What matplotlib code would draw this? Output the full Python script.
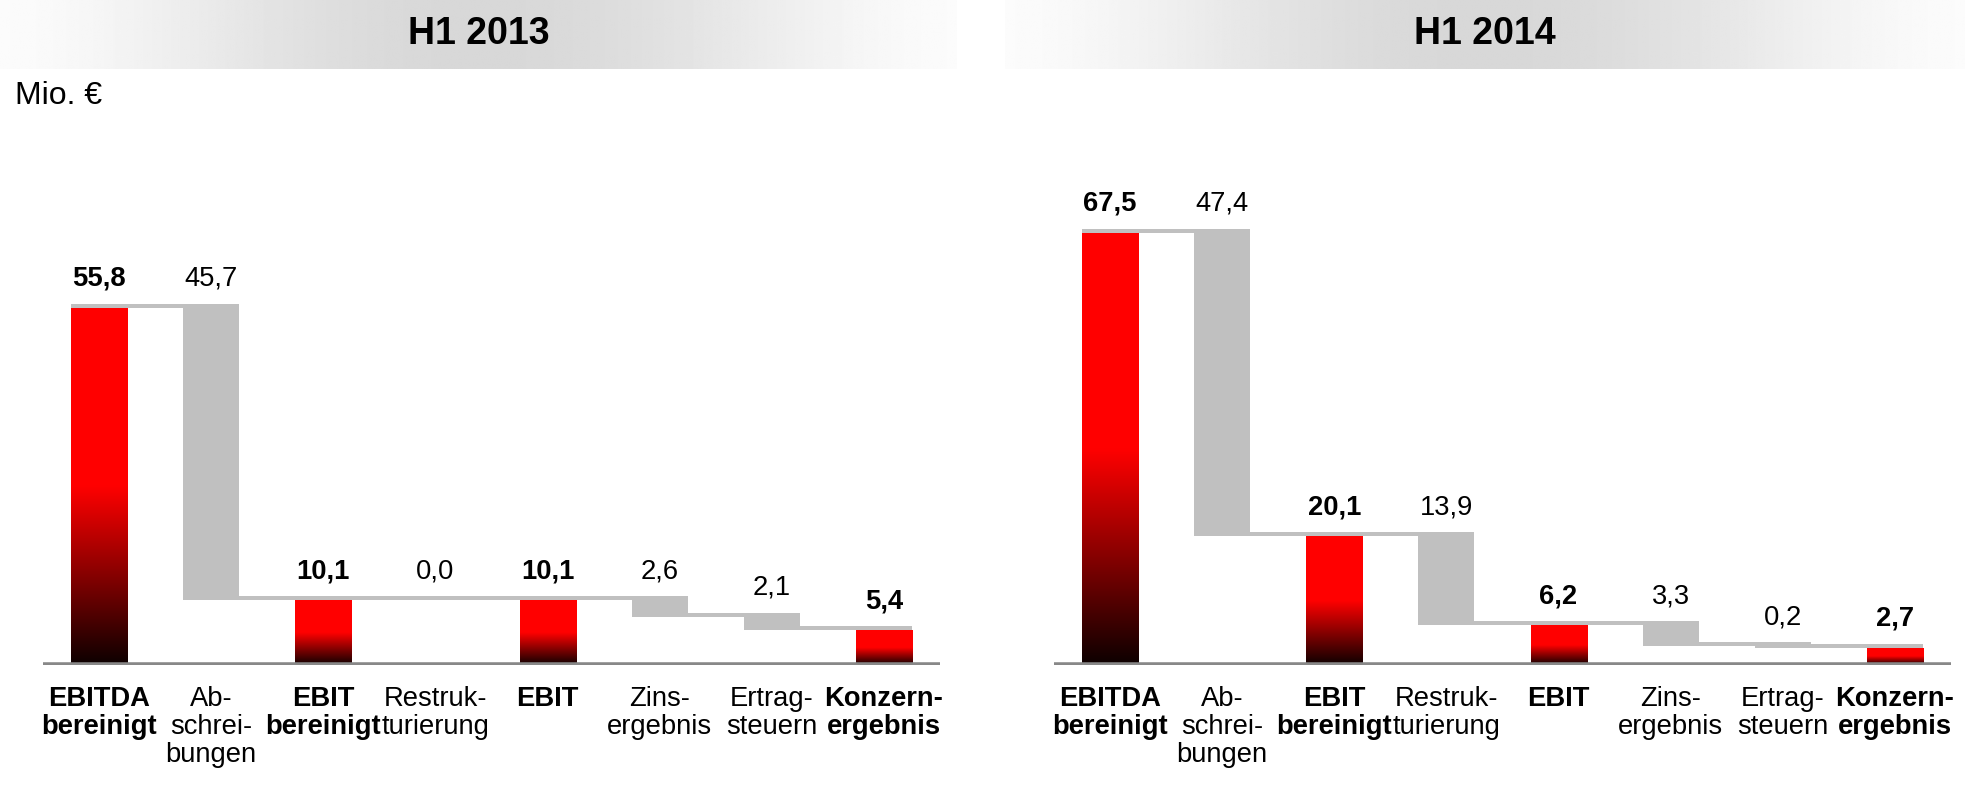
import numpy as np
import matplotlib
matplotlib.use("Agg")
import matplotlib.pyplot as plt
from matplotlib.colors import LinearSegmentedColormap
from matplotlib import font_manager

# --- data -------------------------------------------------------------
categories = ["EBITDA\nbereinigt", "Ab-\nschrei-\nbungen", "EBIT\nbereinigt",
              "Restruk-\nturierung", "EBIT", "Zins-\nergebnis",
              "Ertrag-\nsteuern", "Konzern-\nergebnis"]
is_total = [True, False, True, False, True, False, False, True]
values_2013 = [55.8, 45.7, 10.1, 0.0, 10.1, 2.6, 2.1, 5.4]
values_2014 = [67.5, 47.4, 20.1, 13.9, 6.2, 3.3, 0.2, 2.7]
titles = ["H1 2013", "H1 2014"]
unit_label = "Mio. €"

names = {f.name for f in font_manager.fontManager.ttflist}
NARROW = "Liberation Sans Narrow" in names
FONT = "Liberation Sans Narrow" if NARROW else "Liberation Sans"
SHRINK = 1.0 if NARROW else 0.82   # regular Arial-like font is wider than the narrow one
plt.rcParams["font.family"] = [FONT, "DejaVu Sans"]

RED = "#ff0000"
GREY = "#c0c0c0"
BASE = "#888888"
W, H = 1975, 793
PX_PER_UNIT = 6.4
AX_H = 515

grad_cmap = LinearSegmentedColormap.from_list(
    "redblack", [(0.0, "#0d0000"), (0.5, RED), (1.0, RED)])


def fmt(v):
    return f"{v:.1f}".replace(".", ",")


def waterfall(ax, values):
    level = 0.0
    levels = []
    tops = []
    for i, v in enumerate(values):
        if is_total[i]:
            bar = ax.bar(i, v, width=0.5, color=RED, zorder=3)[0]
            grad = np.linspace(0, 1, 256).reshape(-1, 1)
            im = ax.imshow(grad, extent=(i - 0.25, i + 0.25, 0, v), origin="lower",
                           cmap=grad_cmap, aspect="auto", zorder=3.5)
            im.set_clip_path(bar)
            level = v
            tops.append(v)
        else:
            if v > 0:
                ax.bar(i, v, bottom=level - v, width=0.5, color=GREY, zorder=3)
            tops.append(level)
            level = level - v
        levels.append(level)

    # connectors between neighbouring bars
    conn_h = 4 / PX_PER_UNIT
    for i in range(len(values) - 1):
        ax.bar(i + 0.5, conn_h, bottom=levels[i], width=1.5, color=GREY, zorder=2)

    # value labels
    for i, v in enumerate(values):
        ax.annotate(fmt(v), (i, tops[i]), xytext=(0, 16), textcoords="offset points",
                    ha="center", va="baseline", fontsize=24 * SHRINK,
                    fontweight="bold" if is_total[i] else "normal")

    ax.axhline(0, color=BASE, lw=4, zorder=5)
    ax.set_xlim(-0.5, 7.5)
    ax.set_ylim(0, AX_H / PX_PER_UNIT)
    ax.set_xticks(range(len(categories)))
    ax.set_xticklabels(categories, fontsize=24 * SHRINK, linespacing=1.1)
    for lab, tot in zip(ax.get_xticklabels(), is_total):
        lab.set_fontweight("bold" if tot else "normal")
    ax.tick_params(axis="x", length=0, pad=15)
    ax.set_yticks([])
    for s in ax.spines.values():
        s.set_visible(False)


fig = plt.figure(figsize=(W / 100, H / 100), dpi=100)

# header bands with horizontal grey gradient
t = np.linspace(0, 1, 512)
band = 0.985 - 0.14 * np.sin(np.pi * t) ** 1.6
band_img = np.repeat(band.reshape(1, -1), 2, axis=0)
for (x0, x1), title in zip([(0, 957), (1005, 1965)], titles):
    hax = fig.add_axes([x0 / W, 1 - 69 / H, (x1 - x0) / W, 69 / H])
    hax.imshow(band_img, cmap="gray", vmin=0, vmax=1, aspect="auto")
    hax.text(0.5, 0.5, title, transform=hax.transAxes, ha="center", va="center",
             fontsize=27, fontweight="bold")
    hax.axis("off")

fig.text(15 / W, 1 - 96 / H, unit_label, ha="left", va="center", fontsize=23)

base_y = (H - 665) / H
ax1 = fig.add_axes([43 / W, base_y, 897 / W, AX_H / H])
ax2 = fig.add_axes([1054 / W, base_y, 897 / W, AX_H / H])
waterfall(ax1, values_2013)
waterfall(ax2, values_2014)

fig.savefig("out.png", dpi=100)
